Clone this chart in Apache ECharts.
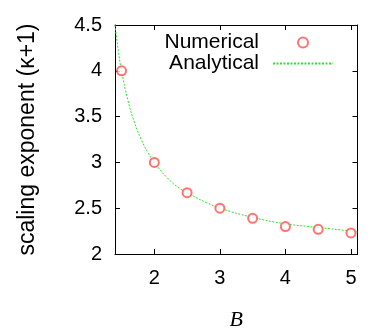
<!DOCTYPE html>
<html>
<head>
<meta charset="utf-8">
<script src="https://cdn.jsdelivr.net/npm/echarts@6/dist/echarts.min.js"></script>
<style>html,body{margin:0;padding:0;background:#fff}#c{width:374px;height:336px}</style>
</head>
<body>
<div id="c"></div>
<script>
var numB = [1.5, 2, 2.5, 3, 3.5, 4, 4.5, 5];
var numVals = [4.0, 3.0, 2.67, 2.5, 2.39, 2.30, 2.27, 2.23];
var anaB = [1.4, 1.45, 1.5, 1.6, 1.7, 1.8, 1.9, 2.0, 2.2, 2.4, 2.6, 2.8, 3.0, 3.5, 4.0, 4.5, 5.0, 5.1];
var anaVals = [4.5, 4.22, 4.0, 3.67, 3.43, 3.25, 3.11, 3.0, 2.83, 2.71, 2.63, 2.56, 2.5, 2.4, 2.33, 2.29, 2.25, 2.24];
var xTicks = [2, 3, 4, 5];
var seriesNames = ['Numerical', 'Analytical'];
var xName = 'B';
var yName = 'scaling exponent (\u03ba+1)';

function pairs(xs, ys) { return xs.map(function (x, i) { return [x, ys[i]]; }); }

var font = 'Liberation Sans, Arial, Helvetica, sans-serif';
var chart = echarts.init(document.getElementById('c'), null, {renderer: 'canvas'});
var axisLine = {show: true, lineStyle: {color: '#000', width: 1}};
var tick = {show: true, inside: true, length: 5, lineStyle: {color: '#000', width: 1}};
chart.setOption({
  animation: false,
  backgroundColor: '#fff',
  grid: {left: 115, right: 16.5, top: 25, bottom: 69, show: false},
  legend: {
    orient: 'vertical', right: 35, top: 27, align: 'right',
    itemWidth: 60, itemHeight: 10, itemGap: 0,
    textStyle: {fontFamily: font, fontSize: 21, color: '#000', padding: [0, 9, 0, 0]},
    data: seriesNames
  },
  xAxis: [{
    type: 'value', min: 1.4, max: 5.1, position: 'bottom',
    name: xName, nameLocation: 'middle', nameGap: 55,
    nameTextStyle: {fontFamily: 'Liberation Serif, DejaVu Serif, serif', fontStyle: 'italic', fontSize: 22, color: '#000'},
    axisLine: axisLine,
    axisTick: Object.assign({customValues: xTicks}, tick),
    axisLabel: {customValues: xTicks, fontFamily: font, fontSize: 20, color: '#000', margin: 14},
    splitLine: {show: false}
  }, {
    type: 'value', min: 1.4, max: 5.1, position: 'top',
    axisLine: axisLine,
    axisTick: Object.assign({customValues: xTicks}, tick),
    axisLabel: {show: false},
    splitLine: {show: false}
  }],
  yAxis: [{
    type: 'value', min: 2, max: 4.5, interval: 0.5, position: 'left',
    name: yName, nameLocation: 'middle', nameGap: 76, nameRotate: 90,
    nameTextStyle: {fontFamily: font, fontSize: 23, color: '#000'},
    axisLine: axisLine, axisTick: tick,
    axisLabel: {fontFamily: font, fontSize: 20, color: '#000', margin: 13},
    splitLine: {show: false}
  }, {
    type: 'value', min: 2, max: 4.5, interval: 0.5, position: 'right',
    axisLine: axisLine, axisTick: tick,
    axisLabel: {show: false},
    splitLine: {show: false}
  }],
  series: [{
    name: seriesNames[0], type: 'scatter', data: pairs(numB, numVals),
    symbol: 'emptyCircle', symbolSize: 9, z: 3,
    itemStyle: {color: '#ff5050', borderColor: '#ff5050', borderWidth: 1}
  }, {
    name: seriesNames[1], type: 'line', data: pairs(anaB, anaVals),
    smooth: true, showSymbol: false, symbol: 'circle', z: 2,
    lineStyle: {color: '#33e033', width: 1, type: [2, 1.5]},
    itemStyle: {color: 'rgba(0,0,0,0)', borderWidth: 0}
  }]
});
</script>
</body>
</html>
